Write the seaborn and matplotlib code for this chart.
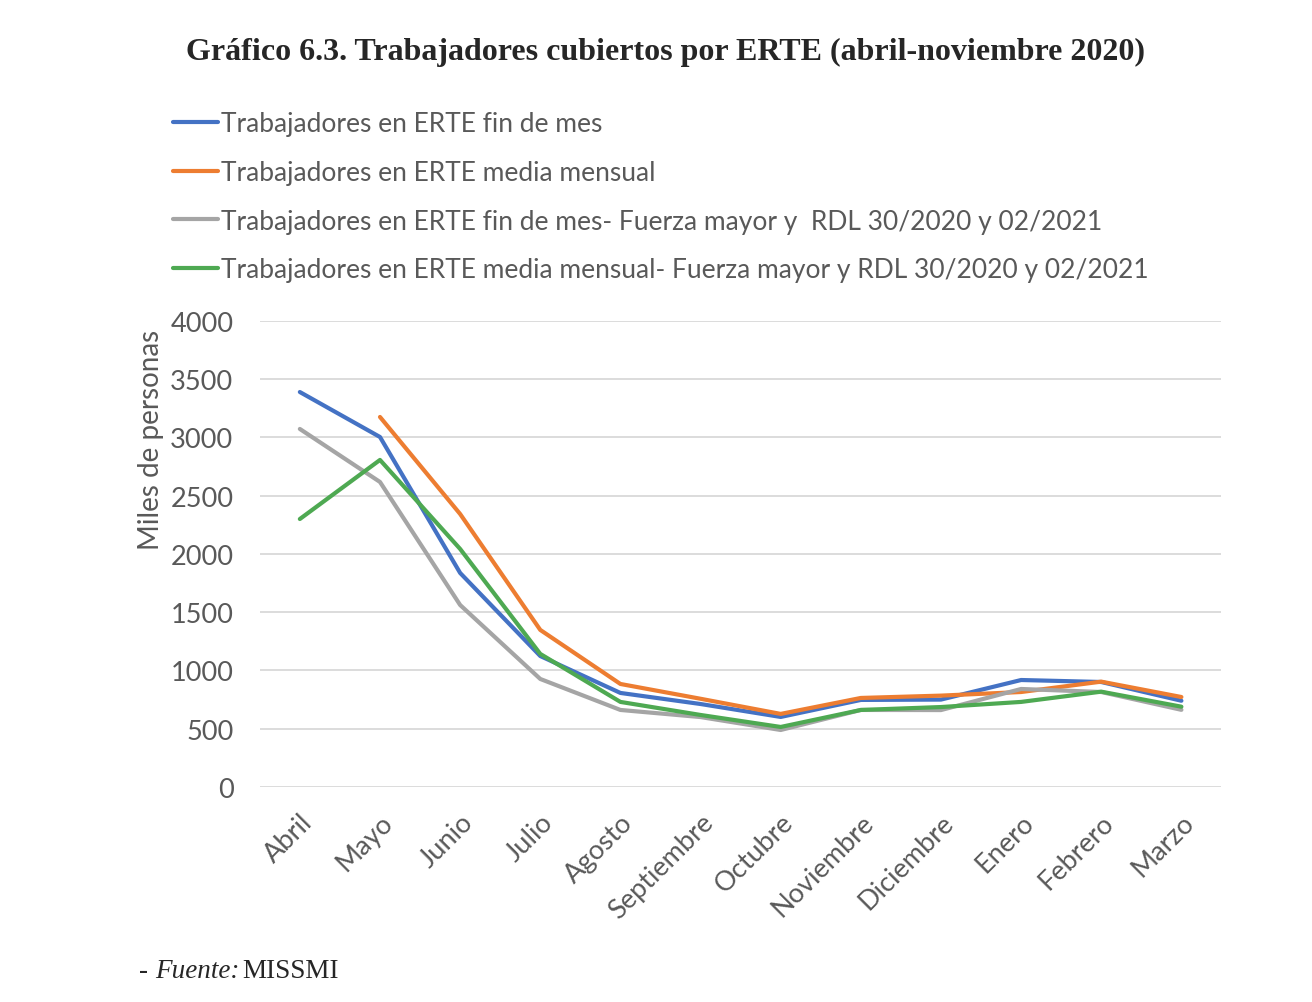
import matplotlib

matplotlib.use("Agg")

import matplotlib.pyplot as plt
import numpy as np
import pandas as pd
import seaborn as sns

MESES = ["Abril", "Mayo", "Junio", "Julio", "Agosto", "Septiembre", "Octubre",
         "Noviembre", "Diciembre", "Enero", "Febrero", "Marzo"]

FIN_MES = [3390, 3004, 1837, 1124, 807, 712, 601, 747, 750, 918, 901, 740]
MEDIA_MENSUAL = [np.nan, 3176, 2343, 1348, 884, 757, 627, 764, 784, 815, 904, 772]
FIN_MES_FM = [3073, 2618, 1562, 927, 661, 600, 489, 661, 660, 841, 815, 662]
MEDIA_MENSUAL_FM = [2300, 2807, 2043, 1142, 730, 618, 515, 661, 686, 730, 818, 689]

SERIES = [
    "Trabajadores en ERTE fin de mes",
    "Trabajadores en ERTE media mensual",
    "Trabajadores en ERTE fin de mes- Fuerza mayor y  RDL 30/2020 y 02/2021",
    "Trabajadores en ERTE media mensual- Fuerza mayor y RDL 30/2020 y 02/2021",
]
COLORS = ["#4472C4", "#ED7D31", "#A5A5A5", "#4EA952"]
TEXT_GREY = "#595959"

df = pd.concat(
    [
        pd.DataFrame({"mes": MESES, "x": range(len(MESES)), "valor": vals, "serie": name})
        for name, vals in zip(SERIES, [FIN_MES, MEDIA_MENSUAL, FIN_MES_FM, MEDIA_MENSUAL_FM])
    ],
    ignore_index=True,
).dropna()

sns.set_style("white")
plt.rcParams["font.family"] = ["Lato", "DejaVu Sans"]

fig = plt.figure(figsize=(13.12, 10.03), dpi=100)
ax = fig.add_axes([0.198, 0.2144, 0.733, 0.4646])

sns.lineplot(
    data=df,
    x="x",
    y="valor",
    hue="serie",
    hue_order=SERIES,
    palette=COLORS,
    linewidth=3,
    legend=False,
    ax=ax,
)

ax.set_xlim(-0.5, len(MESES) - 0.5)
ax.set_ylim(0, 4000)
ax.set_yticks(range(0, 4001, 500))
ax.set_xticks(range(len(MESES)))
ax.set_xticklabels(MESES, rotation=45, ha="right", rotation_mode="anchor")
ax.tick_params(axis="both", labelsize=19.5, colors=TEXT_GREY, length=0)
ax.tick_params(axis="x", pad=16)
ax.tick_params(axis="y", pad=19)
ax.grid(axis="y", color="#D9D9D9", linewidth=1.3)
ax.set_axisbelow(True)
for side in ["top", "right", "left", "bottom"]:
    ax.spines[side].set_visible(False)
ax.set_xlabel("")
ax.set_ylabel("Miles de personas", fontsize=20, color=TEXT_GREY)
ax.yaxis.set_label_coords(-0.100, 0.747)

handles = [plt.Line2D([], [], color=c, linewidth=3) for c in COLORS]
fig.legend(
    handles,
    SERIES,
    loc="upper left",
    bbox_to_anchor=(0.114, 0.912),
    frameon=False,
    fontsize=19,
    labelcolor=TEXT_GREY,
    handlelength=1.7,
    handletextpad=0.12,
    labelspacing=0.9,
)

fig.text(0.507, 0.948, "Gráfico 6.3. Trabajadores cubiertos por ERTE (abril-noviembre 2020)",
         ha="center", va="center", fontsize=23, fontweight="bold", family="Liberation Serif")
fig.text(0.106, 0.031, "-", ha="left", va="center", fontsize=19.5, family="Liberation Serif")
fig.text(0.118, 0.031, "Fuente:", ha="left", va="center", fontsize=19.5, style="italic",
         family="Liberation Serif")
fig.text(0.185, 0.031, "MISSMI", ha="left", va="center", fontsize=19.5, family="Liberation Serif")

fig.savefig("out.png", dpi=100)
